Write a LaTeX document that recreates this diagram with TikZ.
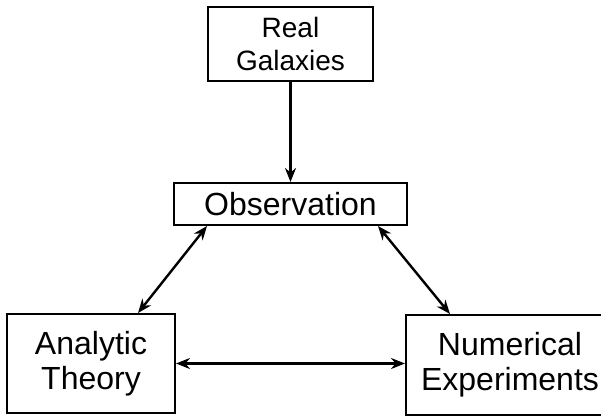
\documentclass[tikz,border=0pt]{standalone}
\usepackage{fontspec}
\setmainfont{Liberation Sans}
\usetikzlibrary{arrows.meta}
\tikzset{
  boxnode/.style={draw, line width=2pt, inner sep=0pt, align=center, font=\fontsize{32}{35}\selectfont},
  link/.style={line width=2.4pt, {Stealth[length=14pt,width=11pt]}-{Stealth[length=14pt,width=11pt]}},
  onelink/.style={line width=2.4pt, -{Stealth[length=14pt,width=11pt]}}
}
\begin{document}
\begin{tikzpicture}[x=1pt,y=-1pt]
\useasboundingbox (0,0) rectangle (601,415);
\clip (0,0) rectangle (601,415);
\node[boxnode, minimum width=165pt, minimum height=74pt, font=\fontsize{28}{33}\selectfont] (rg) at (290.5,44) {Real\\Galaxies};
\node[boxnode, minimum width=233pt, minimum height=42pt] (obs) at (290.5,204) {Observation};
\node[boxnode, minimum width=168pt, minimum height=99pt] (at) at (91,363.5) {Analytic\\Theory};
\node[boxnode, minimum width=208pt, minimum height=100pt] (ne) at (510,365) {Numerical\\Experiments};
\draw[onelink] (rg.south) -- (obs.north);
\draw[link] ([xshift=-83.5pt]obs.south) -- ([xshift=47pt]at.north);
\draw[link] ([xshift=87.5pt]obs.south) -- ([xshift=-60pt]ne.north);
\draw[link] (at.east) -- (at.east -| ne.west);
\end{tikzpicture}
\end{document}
